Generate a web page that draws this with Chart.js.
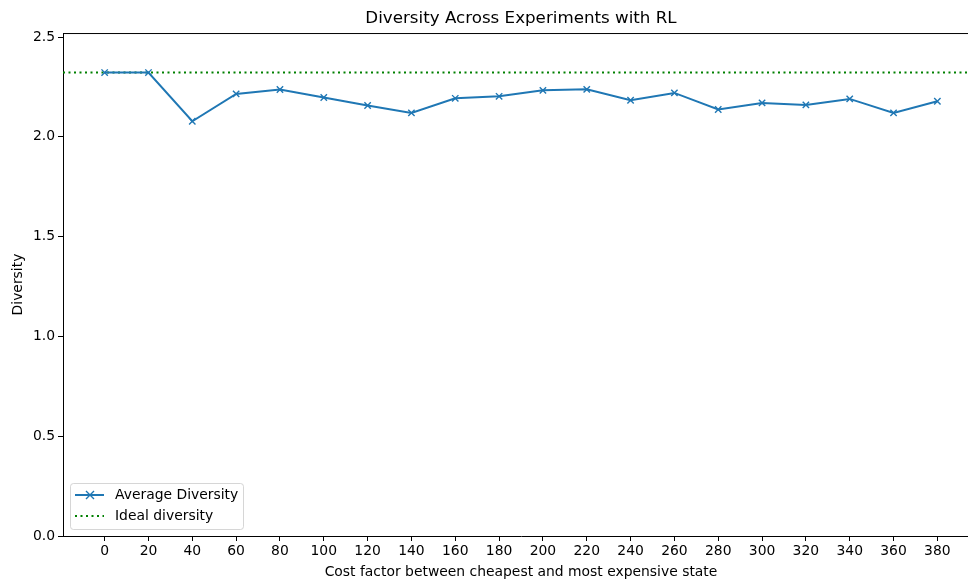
<!DOCTYPE html>
<html>
<head>
<meta charset="utf-8">
<script src="https://cdn.jsdelivr.net/npm/chart.js@4.4.1/dist/chart.umd.min.js"></script>
<style>
  html, body { margin: 0; padding: 0; background: #fff; overflow: hidden; }
  #clip { width: 968px; height: 581px; overflow: hidden; }
  #wrap { width: 979px; height: 581px; }
  #myChart { display: block; }
</style>
</head>
<body>
<div id="clip"><div id="wrap"><canvas id="myChart" width="979" height="581"></canvas></div></div>
<script>
// cost factors on the x axis
const costFactors = [0, 20, 40, 60, 80, 100, 120, 140, 160, 180, 200, 220, 240, 260, 280, 300, 320, 340, 360, 380];
// average diversity per experiment
const avgDiversity = [2.322, 2.322, 2.078, 2.215, 2.237, 2.197, 2.157, 2.120, 2.193, 2.203,
                      2.233, 2.238, 2.183, 2.220, 2.137, 2.170, 2.160, 2.190, 2.120, 2.178];
// log2(5) - maximum possible diversity
const idealDiversity = 2.322;
const yTicks = [0.0, 0.5, 1.0, 1.5, 2.0, 2.5];

const xMin = -19, xMax = 399;
const yMin = 0, yMax = 2.52;

const FONT = 'DejaVu Sans';

// top spine + legend box drawn inside the axes
const framePlugin = {
    id: 'frame',
    afterDraw(chart) {
        const ctx = chart.ctx;
        const a = chart.chartArea;
        ctx.save();
        ctx.strokeStyle = '#000';
        ctx.lineWidth = 1;
        ctx.beginPath();
        ctx.moveTo(a.left, a.top + 0.5);
        ctx.lineTo(a.right, a.top + 0.5);
        ctx.stroke();

        // legend
        const bx = 70, by = 483, bw = 173, bh = 46, r = 3;
        ctx.globalAlpha = 0.8;
        ctx.fillStyle = '#fff';
        ctx.strokeStyle = '#cccccc';
        ctx.beginPath();
        ctx.roundRect(bx + 0.5, by + 0.5, bw, bh, r);
        ctx.fill();
        ctx.stroke();
        ctx.globalAlpha = 1;

        const ds = chart.data.datasets;
        // row 1: line + x marker
        ctx.strokeStyle = ds[0].borderColor;
        ctx.lineWidth = 2;
        ctx.beginPath();
        ctx.moveTo(75, 495);
        ctx.lineTo(104, 495);
        ctx.stroke();
        ctx.lineWidth = 1.4;
        ctx.beginPath();
        ctx.moveTo(86, 491); ctx.lineTo(94, 499);
        ctx.moveTo(94, 491); ctx.lineTo(86, 499);
        ctx.stroke();
        // row 2: dotted line
        ctx.strokeStyle = ds[1].borderColor;
        ctx.lineWidth = 2;
        ctx.setLineDash(ds[1].borderDash);
        ctx.beginPath();
        ctx.moveTo(75, 516);
        ctx.lineTo(104, 516);
        ctx.stroke();
        ctx.setLineDash([]);

        ctx.fillStyle = '#000';
        ctx.font = '13.9px "' + FONT + '"';
        ctx.textBaseline = 'middle';
        ctx.textAlign = 'left';
        ctx.fillText(ds[0].label, 115, 495);
        ctx.fillText(ds[1].label, 115, 516);
        ctx.restore();
    }
};

const data = {
    datasets: [{
        label: 'Average Diversity',
        data: costFactors.map((c, i) => ({x: c, y: avgDiversity[i]})),
        borderColor: '#1f77b4',
        backgroundColor: '#1f77b4',
        borderWidth: 2,
        pointStyle: 'crossRot',
        pointRadius: 4.5,
        pointBorderWidth: 1.4,
        pointHoverRadius: 4.5,
        tension: 0
    }, {
        label: 'Ideal diversity',
        data: [{x: xMin, y: idealDiversity}, {x: xMax, y: idealDiversity}],
        borderColor: '#008000',
        borderWidth: 2,
        borderDash: [2, 3.5],
        pointRadius: 0,
        pointHoverRadius: 0
    }]
};

const config = {
    type: 'line',
    data: data,
    plugins: [framePlugin],
    options: {
        responsive: false,
        animation: false,
        events: [],
        layout: { padding: 0, autoPadding: false },
        plugins: {
            legend: { display: false },
            tooltip: { enabled: false },
            title: {
                display: true,
                fullSize: false,
                text: 'Diversity Across Experiments with RL',
                color: '#000',
                font: { family: FONT, size: 16.7, weight: 'normal' },
                padding: { top: 9, bottom: 4 }
            }
        },
        scales: {
            x: {
                type: 'linear',
                min: xMin,
                max: xMax,
                afterBuildTicks(scale) {
                    scale.ticks = costFactors.map(v => ({value: v}));
                },
                afterFit(scale) {
                    scale.height = 45;
                    scale.paddingLeft = 0;
                    scale.paddingRight = 0;
                },
                grid: { display: true, drawOnChartArea: false, drawTicks: true, tickLength: 5, color: '#000' },
                border: { display: true, color: '#000', width: 1 },
                ticks: {
                    color: '#000',
                    font: { family: FONT, size: 13.9 },
                    padding: 2,
                    maxRotation: 0,
                    autoSkip: false
                },
                title: {
                    display: true,
                    text: 'Cost factor between cheapest and most expensive state',
                    color: '#000',
                    font: { family: FONT, size: 13.9 },
                    padding: { top: 0, bottom: 0 }
                }
            },
            y: {
                min: yMin,
                max: yMax,
                afterBuildTicks(scale) {
                    scale.ticks = yTicks.map(v => ({value: v}));
                },
                afterFit(scale) { scale.width = 63; },
                grid: { display: true, drawOnChartArea: false, drawTicks: true, tickLength: 5, color: '#000' },
                border: { display: true, color: '#000', width: 1 },
                ticks: {
                    color: '#000',
                    font: { family: FONT, size: 13.9 },
                    padding: 3,
                    callback: v => v.toFixed(1)
                },
                title: {
                    display: true,
                    text: 'Diversity',
                    color: '#000',
                    font: { family: FONT, size: 13.9 },
                    padding: { top: 10, bottom: 0 }
                }
            }
        }
    }
};

const myChart = new Chart(document.getElementById('myChart'), config);
</script>
</body>
</html>
